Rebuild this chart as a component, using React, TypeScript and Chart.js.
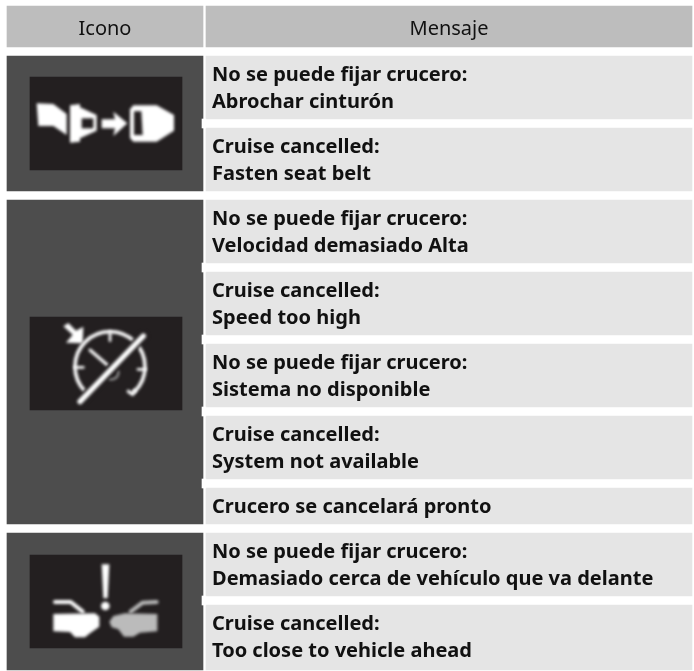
import React, { useEffect, useRef } from "react";
import { Chart, registerables } from "chart.js";

Chart.register(...registerables);

const headers = ["Icono", "Mensaje"];
const headerTop = 6;
const headerBottom = 47;

const iconGroupTops = [56, 200, 533];
const iconGroupBottoms = [191, 524, 670];
const iconBoxTops = [77, 317, 555];
const iconBoxBottoms = [170, 410, 648];
const iconKinds = ["belt", "speed", "cars"];

const messageTops = [56, 128, 200, 272, 344, 416, 488, 533, 605];
const messageBottoms = [119, 191, 263, 335, 407, 479, 524, 596, 670];
const messageLines = [
  ["No se puede fijar crucero:", "Abrochar cinturón"],
  ["Cruise cancelled:", "Fasten seat belt"],
  ["No se puede fijar crucero:", "Velocidad demasiado Alta"],
  ["Cruise cancelled:", "Speed too high"],
  ["No se puede fijar crucero:", "Sistema no disponible"],
  ["Cruise cancelled:", "System not available"],
  ["Crucero se cancelará pronto"],
  ["No se puede fijar crucero:", "Demasiado cerca de vehículo que va delante"],
  ["Cruise cancelled:", "Too close to vehicle ahead"],
];

const COL_ICON = { x: 105, w: 196 };
const COL_MSG = { x: 449, w: 486 };
const COL_BOX = { x: 106, w: 152 };
const COL_NOTCH = { x: 204, w: 4 };
const HEADER_BG = "#bdbdbd";
const ICON_BG = "#4d4d4d";
const BOX_BG = "#231f20";
const MSG_BG = "#e5e5e5";
const INK = "#111111";

const poly = (c: CanvasRenderingContext2D, pts: number[][], fill = "#fff") => {
  c.beginPath();
  pts.forEach(([x, y], i) => (i ? c.lineTo(x, y) : c.moveTo(x, y)));
  c.closePath();
  c.fillStyle = fill;
  c.fill();
};

const seg = (c: CanvasRenderingContext2D, pts: number[][], w: number, col = "#fff") => {
  c.beginPath();
  pts.forEach(([x, y], i) => (i ? c.lineTo(x, y) : c.moveTo(x, y)));
  c.strokeStyle = col;
  c.lineWidth = w;
  c.lineCap = "round";
  c.lineJoin = "round";
  c.stroke();
};

const drawBelt = (c: CanvasRenderingContext2D) => {
  poly(c, [[110, 310], [160, 312], [200, 342], [200, 405], [160, 378], [115, 378]]);
  poly(c, [[210, 316], [240, 312], [240, 322], [290, 345], [290, 392], [240, 415], [240, 425], [210, 428]]);
  poly(c, [[245, 355], [280, 355], [280, 385], [245, 385]], BOX_BG);
  poly(c, [[305, 358], [345, 358], [340, 335], [382, 370], [340, 408], [345, 385], [305, 385]]);
  poly(c, [[400, 316], [470, 316], [522, 345], [522, 392], [470, 425], [400, 425], [390, 414], [390, 328]]);
  poly(c, [[402, 334], [424, 334], [428, 405], [402, 405]], BOX_BG);
};

const drawSpeed = (c: CanvasRenderingContext2D) => {
  c.beginPath();
  c.arc(330, 410, 105, (3 * Math.PI) / 4, Math.PI / 4);
  c.strokeStyle = "#fff";
  c.lineWidth = 11;
  c.lineCap = "round";
  c.stroke();
  seg(c, [[404, 482], [398, 493], [385, 484]], 10);
  seg(c, [[330, 308], [330, 332]], 8);
  seg(c, [[226, 412], [250, 412]], 8);
  seg(c, [[436, 418], [414, 418]], 8);
  seg(c, [[270, 360], [322, 405]], 9);
  c.beginPath();
  c.arc(335, 428, 20, -0.2, 2);
  c.strokeStyle = "#999";
  c.lineWidth = 7;
  c.stroke();
  seg(c, [[240, 515], [430, 318]], 30, BOX_BG);
  seg(c, [[240, 515], [430, 318]], 16);
  poly(c, [[190, 289], [205, 279], [228, 302], [250, 290], [248, 340], [198, 338], [218, 314]]);
};

const drawCars = (c: CanvasRenderingContext2D) => {
  poly(c, [[305, 283], [328, 283], [323, 385], [310, 385]]);
  c.beginPath();
  c.arc(316, 408, 13, 0, Math.PI * 2);
  c.fillStyle = "#fff";
  c.fill();
  seg(c, [[165, 396], [212, 396], [248, 425]], 12);
  poly(c, [[160, 432], [285, 430], [298, 440], [298, 470], [270, 490], [255, 502], [225, 502], [210, 486], [160, 484]]);
  seg(c, [[470, 396], [428, 398], [392, 425]], 12, "#bbbbbb");
  poly(c, [[472, 432], [375, 430], [340, 438], [328, 455], [335, 472], [355, 478], [372, 500], [400, 500], [420, 488], [472, 484]], "#bbbbbb");
};

const iconDrawers: Record<string, (c: CanvasRenderingContext2D) => void> = {
  belt: drawBelt,
  speed: drawSpeed,
  cars: drawCars,
};
// Glyph sketches are written at 3x, relative to these anchors in the 3x crop space.
const iconAnchorX = 90;
const iconAnchorY = [231, 261, 255];

const tablePlugin = {
  id: "tableText",
  afterDatasetsDraw(chart: any) {
    const { ctx: c, scales } = chart;
    const X = scales.x;
    const Y = scales.y;
    c.save();
    iconKinds.forEach((k, i) => {
      c.save();
      c.beginPath();
      c.rect(X.getPixelForValue(COL_BOX.x - COL_BOX.w / 2), Y.getPixelForValue(iconBoxTops[i]), COL_BOX.w, iconBoxBottoms[i] - iconBoxTops[i]);
      c.clip();
      c.translate(X.getPixelForValue(COL_BOX.x - COL_BOX.w / 2), Y.getPixelForValue(iconBoxTops[i]));
      c.scale(1 / 3, 1 / 3);
      c.translate(-iconAnchorX, -iconAnchorY[i]);
      c.filter = "blur(1.5px)";
      iconDrawers[k](c);
      c.restore();
    });
    c.fillStyle = INK;
    c.textBaseline = "alphabetic";
    c.textAlign = "center";
    c.font = '400 20px "Noto Sans"';
    c.fillText(headers[0], X.getPixelForValue(COL_ICON.x), Y.getPixelForValue(35));
    c.fillText(headers[1], X.getPixelForValue(COL_MSG.x), Y.getPixelForValue(35));
    c.textAlign = "left";
    c.font = '700 20px "Noto Sans"';
    messageLines.forEach((lines, i) => {
      lines.forEach((line, j) => {
        c.fillText(line, X.getPixelForValue(212), Y.getPixelForValue(messageTops[i] + 25 + j * 27));
      });
    });
    c.restore();
  },
};

const notchTops: number[] = [];
const notchBottoms: number[] = [];
messageTops.forEach((t, i) => {
  if (i > 0 && t - messageBottoms[i - 1] === 9 && !iconGroupTops.includes(t)) {
    notchTops.push(messageBottoms[i - 1]);
    notchBottoms.push(t);
  }
});

const column = (col: { x: number; w: number }, tops: number[], bottoms: number[], colors: string[], label: string) => ({
  label,
  data: tops.map((t, i) => ({ x: col.x, y: [t, bottoms[i]] })),
  backgroundColor: colors,
  barThickness: col.w,
  borderWidth: 0,
  borderSkipped: false,
  grouped: false,
});

export default function App() {
  const ref = useRef<HTMLCanvasElement>(null);
  useEffect(() => {
    const chart = new Chart(ref.current!, {
      type: "bar",
      data: {
        // Chart.js paints the first dataset last, so the top layers come first.
        datasets: [
          column(COL_NOTCH, notchTops, notchBottoms, notchTops.map(() => "#ffffff"), "Separadores"),
          column(COL_BOX, iconBoxTops, iconBoxBottoms, iconBoxTops.map(() => BOX_BG), "Iconos"),
          column(COL_MSG, [headerTop, ...messageTops], [headerBottom, ...messageBottoms], [HEADER_BG, ...messageTops.map(() => MSG_BG)], "Mensaje"),
          column(COL_ICON, [headerTop, ...iconGroupTops], [headerBottom, ...iconGroupBottoms], [HEADER_BG, ICON_BG, ICON_BG, ICON_BG], "Icono"),
        ] as any,
      },
      options: {
        animation: false,
        responsive: false,
        maintainAspectRatio: false,
        layout: { padding: 0 },
        plugins: { legend: { display: false }, tooltip: { enabled: false } },
        scales: {
          x: { type: "linear", min: 0, max: 694, display: false, offset: false },
          y: { type: "linear", min: 0, max: 671, reverse: true, display: false },
        },
      },
      plugins: [tablePlugin],
    });
    return () => chart.destroy();
  }, []);
  return (
    <canvas
      ref={ref}
      width={694}
      height={671}
      style={{ position: "fixed", left: 0, top: 0, width: 694, height: 671, background: "#fff" }}
    />
  );
}
